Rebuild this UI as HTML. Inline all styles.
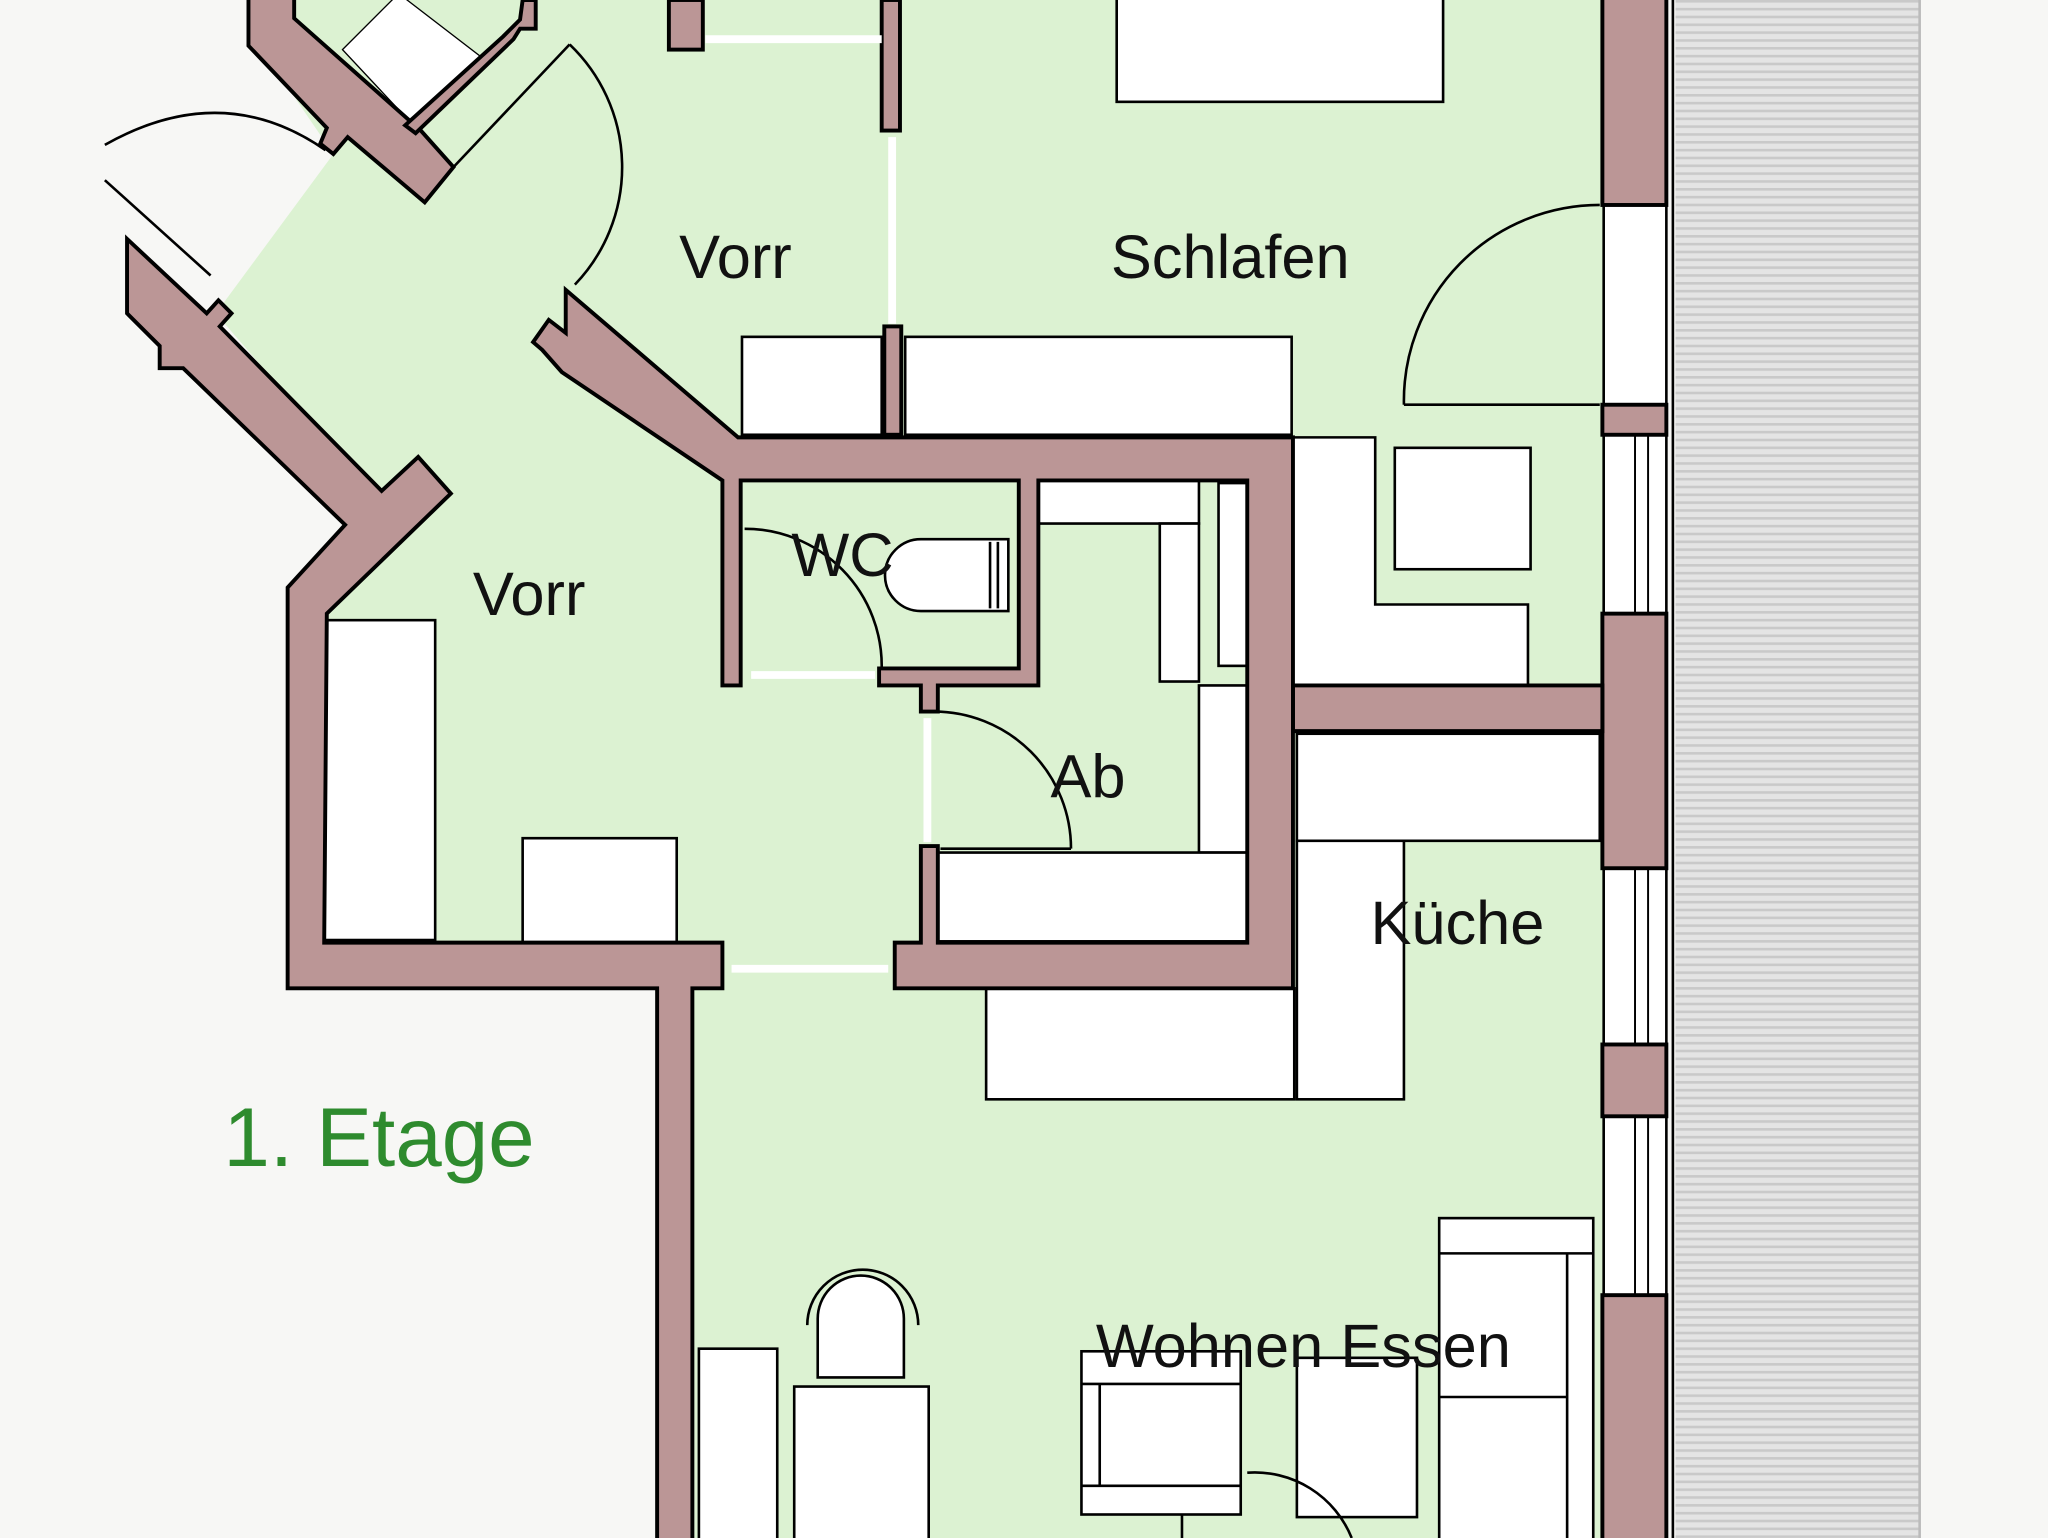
<!DOCTYPE html>
<html><head><meta charset="utf-8"><style>
html,body{margin:0;padding:0;background:#f7f7f5;}
svg{display:block}
text{font-family:"Liberation Sans",Arial,sans-serif;fill:#111}
</style></head><body>
<svg width="2048" height="1538" viewBox="0 0 1568 1178" xmlns="http://www.w3.org/2000/svg">
<defs>
<pattern id="st" width="6" height="6" patternUnits="userSpaceOnUse">
<rect width="6" height="6" fill="#e4e4e4"/><rect width="6" height="2" fill="#c9c9c9"/>
</pattern>
</defs>
<rect width="1568" height="1178" fill="#f7f7f5"/>
<!-- green floor -->
<polygon points="230,0 1230,0 1230,1178 530,1178 530,755 220,755 220,465 290,385 165,240 255,118 195,30 195,0" fill="#dcf2d2"/>
<!-- balcony -->
<rect x="1283" y="0" width="187" height="1178" fill="url(#st)"/>
<line x1="1281" y1="0" x2="1281" y2="1178" stroke="#000" stroke-width="2"/>
<line x1="1470" y1="0" x2="1470" y2="1178" stroke="#bbb" stroke-width="2"/>
<!-- windows right -->
<g fill="#fff" stroke="#000" stroke-width="2">
<rect x="1228" y="157" width="48" height="153"/>
<rect x="1228" y="333" width="48" height="137"/>
<rect x="1228" y="665" width="48" height="135"/>
<rect x="1228" y="855" width="48" height="137"/>
</g>
<g stroke="#000" stroke-width="1.5">
<line x1="1252" y1="333" x2="1252" y2="470"/><line x1="1262" y1="333" x2="1262" y2="470"/>
<line x1="1252" y1="665" x2="1252" y2="800"/><line x1="1262" y1="665" x2="1262" y2="800"/>
<line x1="1252" y1="855" x2="1252" y2="992"/><line x1="1262" y1="855" x2="1262" y2="992"/>
</g>
<!-- window square top-left -->
<polygon points="262,38 305,-5 370,45 320,100" fill="#fff" stroke="#000" stroke-width="1"/>
<!-- furniture -->
<g fill="#fff" stroke="#000" stroke-width="2">
<rect x="855" y="-5" width="250" height="83"/>
<rect x="568" y="258" width="107" height="75"/>
<rect x="693" y="258" width="296" height="75"/>
<rect x="793" y="368" width="125" height="33"/>
<rect x="888" y="401" width="30" height="121"/>
<rect x="933" y="370" width="22" height="140"/>
<polygon points="990,335 1053,335 1053,463 1170,463 1170,525 990,525"/>
<rect x="1068" y="343" width="104" height="93"/>
<rect x="918" y="525" width="37" height="128"/>
<rect x="718" y="653" width="237" height="68"/>
<rect x="248" y="475" width="85" height="245"/>
<rect x="400" y="642" width="118" height="80"/>
<rect x="993" y="562" width="232" height="82"/>
<rect x="993" y="644" width="82" height="198"/>
<rect x="755" y="757" width="236" height="85"/>
<rect x="535" y="1033" width="60" height="150"/>
<rect x="608" y="1062" width="103" height="120"/>
<path d="M626,1055 V1010 A33,33 0 0 1 692,1010 V1055 Z"/>
<rect x="828" y="1035" width="122" height="125"/>
<rect x="993" y="1040" width="92" height="122"/>
<rect x="1102" y="933" width="118" height="250"/>
</g>
<g fill="none" stroke="#000" stroke-width="2">
<line x1="828" y1="1060" x2="950" y2="1060"/><line x1="828" y1="1138" x2="950" y2="1138"/>
<line x1="842" y1="1060" x2="842" y2="1138"/>
<line x1="1102" y1="960" x2="1220" y2="960"/><line x1="1102" y1="1070" x2="1200" y2="1070"/><line x1="1200" y1="960" x2="1200" y2="1178"/>
<path d="M618,1015 A42,42 0 0 1 703,1015"/>
<line x1="905" y1="1160" x2="905" y2="1178"/>
<path d="M955,1128 A80,80 0 0 1 1035,1178"/>
<!-- toilet -->
<path d="M705,413 H772 V468 H705 A27,27 0 0 1 705,413 Z" fill="#fff"/>
<line x1="758" y1="415" x2="758" y2="466"/><line x1="764" y1="415" x2="764" y2="466"/>
<!-- doors -->
<path d="M570,405 A105,105 0 0 1 675,512"/>
<path d="M715,545 A105,105 0 0 1 820,650"/><line x1="720" y1="650" x2="820" y2="650"/>
<path d="M436,34 A130,130 0 0 1 440,218"/><line x1="436" y1="34" x2="347" y2="128"/>
<path d="M1225,157 A150,150 0 0 0 1075,310"/><line x1="1075" y1="310" x2="1225" y2="310"/>
<path d="M80,111 Q170,60 249,115"/><line x1="80" y1="138" x2="161" y2="211"/>
</g>
<!-- walls -->
<g fill="#bb9696" stroke="#000" stroke-width="3" stroke-linejoin="miter">
<rect x="1227" y="-5" width="49" height="162"/>
<rect x="1227" y="310" width="49" height="23"/>
<rect x="1227" y="470" width="49" height="195"/>
<rect x="1227" y="800" width="49" height="55"/>
<rect x="1227" y="992" width="49" height="190"/>
<polygon points="990,525 1227,525 1227,560 990,560"/>
<polygon points="433,222 565,335 990,335 990,757 685,757 685,722 705,722 705,648 718,648 718,722 955,722 955,368 795,368 795,525 718,525 718,545 705,545 705,525 673,525 673,512 780,512 780,368 567,368 567,525 553,525 553,368 430,285 415,268 408,262 420,245 433,255"/>
<polygon points="97,183 158,240 167,230 177,240 168,250 292,376 320,350 345,378 250,470 248,722 553,722 553,757 530,757 530,1182 503,1182 503,757 220,757 220,450 264,402 140,282 122,282 122,265 97,240"/>
<polygon points="190,-5 225,-5 225,14 322,100 347,128 325,155 266,105 255,118 245,110 250,98 190,35"/>
<polygon points="318,102 393,30 398,22 410,22 410,0 400,0 398,15 385,28 310,96"/>
<rect x="512" y="0" width="26" height="38"/>
<rect x="675" y="0" width="14" height="100"/>
<rect x="677" y="250" width="13" height="83"/>
</g>
<g stroke="#fff" stroke-width="6">
<line x1="540" y1="30" x2="675" y2="30"/><line x1="683" y1="105" x2="683" y2="248"/>
<line x1="575" y1="517" x2="670" y2="517"/><line x1="710" y1="550" x2="710" y2="645"/>
<line x1="560" y1="742" x2="680" y2="742"/>
</g>
<!-- labels -->
<text x="563" y="213" font-size="47" text-anchor="middle">Vorr</text>
<text x="942" y="213" font-size="47" text-anchor="middle">Schlafen</text>
<text x="405" y="471" font-size="47" text-anchor="middle">Vorr</text>
<text x="645" y="441" font-size="47" text-anchor="middle">WC</text>
<text x="833" y="611" font-size="47" text-anchor="middle">Ab</text>
<text x="1116" y="723" font-size="47" text-anchor="middle">Küche</text>
<text x="998" y="1047" font-size="47" text-anchor="middle">Wohnen Essen</text>
<text x="290" y="893" font-size="64" text-anchor="middle" style="fill:#2e8b2e">1. Etage</text>
</svg>
</body></html>
